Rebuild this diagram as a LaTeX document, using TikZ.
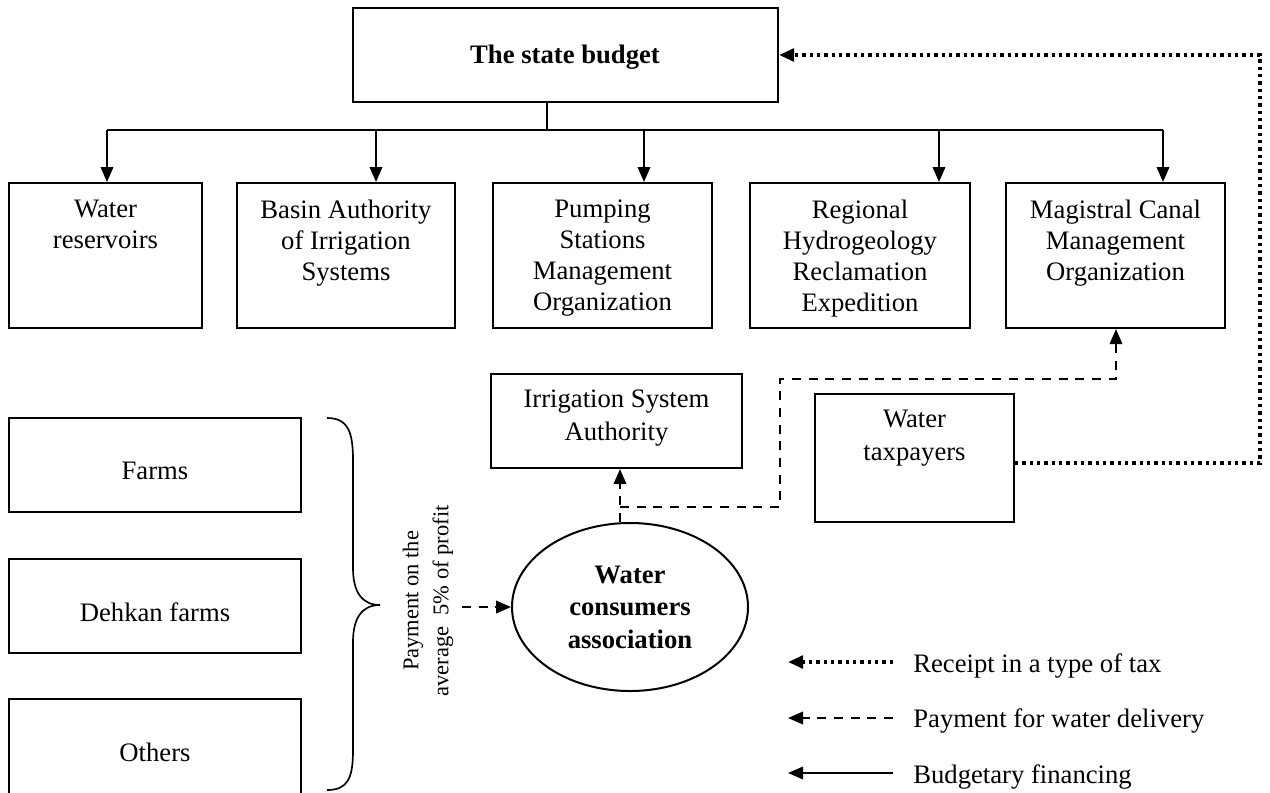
\documentclass[tikz,border=0pt]{standalone}
\usepackage{fontspec}
\setmainfont{Liberation Serif}
\usetikzlibrary{arrows.meta,fit,shapes.geometric}
\begin{document}
\begin{tikzpicture}[x=0.6pt,y=-0.6pt,
  box/.style={draw,line width=1.2pt,inner sep=0pt},
  txt/.style={font=\fontsize{16}{18.5}\selectfont,align=center,inner sep=0pt},
  txtb/.style={font=\fontsize{16}{19.5}\selectfont,align=center,inner sep=0pt},
  link/.style={line width=1.2pt},
  tip/.style={-{Triangle[length=9pt,width=7.5pt]}},
  fin/.style={link,tip},
  pay/.style={line width=1.2pt,dash pattern=on 5.4pt off 4.6pt,tip},
  tax/.style={line width=2.2pt,dash pattern=on 2pt off 2.4pt,tip}]
\useasboundingbox (0,0) rectangle (1270,792);
\clip (0,0) rectangle (1270,792);

% state budget
\node[box, fit={(353,8) (778,102)}] (sb) {};
\node[txt, font=\fontsize{16}{18.5}\selectfont\bfseries] (sbt) at (565,57) {The state budget};

% row of organizations
\node[box, fit={(9,183) (202,328)}] (b1) {};
\node[box, fit={(237,183) (455,328)}] (b2) {};
\node[box, fit={(493,183) (712,328)}] (b3) {};
\node[box, fit={(750,183) (970,328)}] (b4) {};
\node[box, fit={(1006,183) (1225,328)}] (b5) {};
\node[txt, anchor=north] (t1) at ([yshift=-18*0.6pt]b1.north) {Water\\reservoirs};
\node[txt, anchor=north] (t2) at ([yshift=-18*0.6pt]b2.north) {Basin Authority\\of Irrigation\\Systems};
\node[txt, anchor=north] (t3) at ([yshift=-18*0.6pt]b3.north) {Pumping\\Stations\\Management\\Organization};
\node[txt, anchor=north] (t4) at ([yshift=-18*0.6pt]b4.north) {Regional\\Hydrogeology\\Reclamation\\Expedition};
\node[txt, anchor=north] (t5) at ([yshift=-18*0.6pt]b5.north) {Magistral Canal\\Management\\Organization};

% tree connectors
\coordinate (stem) at (547,130);
\coordinate (a1) at (107,130);
\coordinate (a2) at (376,130);
\coordinate (a3) at (644,130);
\coordinate (a4) at (939,130);
\coordinate (a5) at (1163,130);
\draw[link] (stem |- sb.south) -- (stem);
\draw[link] (a1) -- (a5);
\foreach \i in {1,...,5} \draw[fin] (a\i) -- (a\i |- b\i.north);

% irrigation system authority, taxpayers
\node[box, fit={(491,374) (742,468)}] (isa) {};
\node[txt, txtb, anchor=north] (isat) at ([yshift=-17*0.6pt]isa.north) {Irrigation System\\Authority};
\node[box, fit={(815,394) (1014,522)}] (tp) {};
\node[txt, txtb, anchor=north] (tpt) at ([yshift=-17*0.6pt]tp.north) {Water\\taxpayers};

% water consumers association
\node[draw, line width=1.2pt, ellipse, inner sep=0pt, minimum width=236*0.6pt, minimum height=168*0.6pt,
      txtb, font=\fontsize{16}{19.5}\selectfont\bfseries] (wca) at (630,607) {Water\\consumers\\association};

% farms
\node[box, fit={(9,418) (301,512)}] (f1) {};
\node[box, fit={(9,559) (301,653)}] (f2) {};
\node[box, fit={(9,699) (301,810)}] (f3) {};
\node[txt] (f1t) at (155,471) {Farms};
\node[txt] (f2t) at (155,612) {Dehkan farms};
\node[txt] (f3t) at (155,752) {Others};

% brace
\draw[line width=1pt] (327,418) .. controls (348,418) and (353,432) .. (353,460) -- (353,568)
  .. controls (353,592) and (362,605) .. (380,605)
  .. controls (362,605) and (353,618) .. (353,642) -- (353,750)
  .. controls (353,778) and (348,790) .. (327,790);

\node[txt, font=\fontsize{13.5}{18}\selectfont, rotate=90] (pl) at (428,601) {Payment on the\\average\enspace 5\% of profit};

% payment flows
\coordinate (bs) at (462,607);
\draw[pay] (bs) -- (wca.west);
\coordinate (c0) at (620,507);
\coordinate (c1) at (780,507);
\coordinate (c2) at (780,379);
\coordinate (c3) at (1116,379);
\draw[pay] (c0 |- wca.north) -- (c0 |- isa.south);
\draw[pay] (c0) -- (c1) -- (c2) -- (c3) -- (c3 |- b5.south);

% tax flow
\coordinate (d1) at (1260,463);
\coordinate (d2) at (1260,55);
\draw[tax] (d1 -| tp.east) -- (d1) -- (d2) -- (d2 -| sb.east);

% legend
\coordinate (l1s) at (893,662);
\coordinate (l1e) at (788,662);
\coordinate (l2s) at (893,718);
\coordinate (l2e) at (788,718);
\coordinate (l3s) at (893,773);
\coordinate (l3e) at (788,773);
\draw[tax] (l1s) -- (l1e);
\draw[pay] (l2s) -- (l2e);
\draw[fin] (l3s) -- (l3e);
\node[txt, anchor=base west] (lg1) at (913,672) {Receipt in a type of tax};
\node[txt, anchor=base west] (lg2) at (913,727) {Payment for water delivery};
\node[txt, anchor=base west] (lg3) at (913,783) {Budgetary financing};
\end{tikzpicture}
\end{document}
